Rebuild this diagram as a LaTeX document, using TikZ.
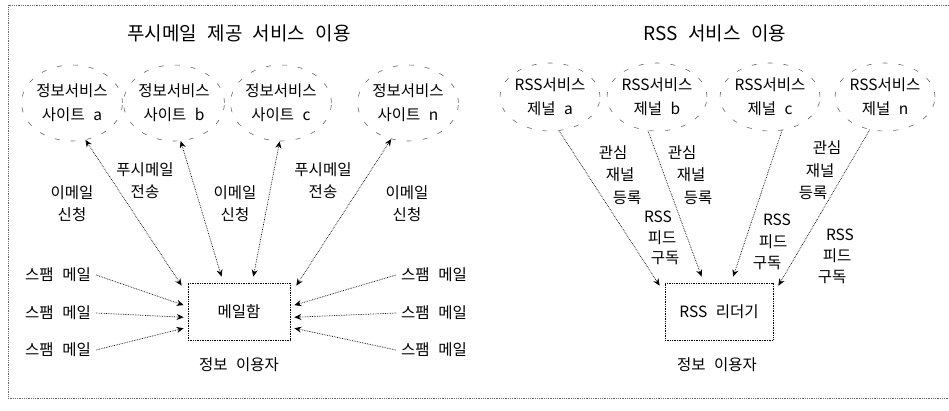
\documentclass[tikz,border=0pt]{standalone}
\usepackage{fontspec}
\setmainfont{Noto Sans CJK KR}
\usetikzlibrary{shapes.geometric,arrows.meta,calc}
\newcommand\wsp{\hskip 0.55em\relax}
\begin{document}
\begin{tikzpicture}[x=1pt,y=-1pt,
  lbl/.style={inner sep=0pt,font=\fontsize{15.5}{22}\selectfont,align=center},
  ttl/.style={inner sep=0pt,font=\fontsize{19}{22}\selectfont},
  cloudell/.style={ellipse,inner sep=0pt,minimum width=98pt,minimum height=76pt,
     draw=black!60,line width=0.6pt,dash pattern=on 5pt off 11pt,
     font=\fontsize{15.5}{24}\selectfont,align=center},
  rssell/.style={cloudell,minimum height=68pt},
  boxn/.style={rectangle,draw=black,line width=0.7pt,densely dotted,inner sep=0pt,
     font=\fontsize{15.5}{18}\selectfont},
  conn/.style={draw=black,line width=0.7pt,densely dotted},
  tip/.style={-{Stealth[length=7pt,width=6pt,fill=black]}},
  tips/.style={{Stealth[length=7pt,width=6pt,fill=black]}-{Stealth[length=7pt,width=6pt,fill=black]}}
]
\useasboundingbox (0,0) rectangle (949,410);
\draw[draw=black!60,line width=0.8pt,densely dotted] (949,5) -- (8,5) -- (8,398) -- (949,398);

% titles
\node[ttl] (t1) at (239,33) {푸시메일\wsp 제공\wsp 서비스\wsp 이용};
\node[ttl] (t2) at (715,33) {RSS\wsp 서비스\wsp 이용};

% left clouds
\node[cloudell] (ca) at (72,103) {정보서비스\\사이트\wsp a};
\node[cloudell] (cb) at (174,103) {정보서비스\\사이트\wsp b};
\node[cloudell] (cc) at (281,103) {정보서비스\\사이트\wsp c};
\node[cloudell] (cn) at (408,103) {정보서비스\\사이트\wsp n};

% mail box
\node[boxn,minimum width=102pt,minimum height=57pt] (mb) at (239,311.5) {메일함};
\node[lbl] (u1) at (239,365) {정보\wsp 이용자};

% cloud connectors
\draw[conn,tips] (ca.-70) -- ($(mb.north west)+(-6,3)$);
\draw[conn,tips] (cb.-80) -- ($(mb.north west)!0.33!(mb.north east)+(0,-6)$);
\draw[conn,tips] (cc.-92) -- ($(mb.north west)!0.64!(mb.north east)+(0,-6)$);
\draw[conn,tips] (cn.-115) -- ($(mb.north east)+(6,3)$);

% connector labels
\node[lbl] (l1) at (72,204) {이메일\\신청};
\node[lbl] (l2) at (145,181) {푸시메일\\전송};
\node[lbl] (l3) at (235,204) {이메일\\신청};
\node[lbl] (l4) at (323,181) {푸시메일\\전송};
\node[lbl] (l5) at (407,204) {이메일\\신청};

% spam mail
\node[lbl] (sl1) at (58,275) {스팸\wsp 메일};
\node[lbl] (sl2) at (58,313) {스팸\wsp 메일};
\node[lbl] (sl3) at (58,350) {스팸\wsp 메일};
\node[lbl] (sr1) at (434,275) {스팸\wsp 메일};
\node[lbl] (sr2) at (434,313) {스팸\wsp 메일};
\node[lbl] (sr3) at (434,350) {스팸\wsp 메일};
\draw[conn,tip] ($(sl1.east)+(5,0)$) -- ($(mb.north west)!0.39!(mb.south west)+(-4,0)$);
\draw[conn,tip] ($(sl2.east)+(5,0)$) -- ($(mb.north west)!0.6!(mb.south west)+(-4,0)$);
\draw[conn,tip] ($(sl3.east)+(5,0)$) -- ($(mb.north west)!0.79!(mb.south west)+(-4,0)$);
\draw[conn,tip] ($(sr1.west)+(-5,0)$) -- ($(mb.north east)!0.39!(mb.south east)+(4,0)$);
\draw[conn,tip] ($(sr2.west)+(-5,0)$) -- ($(mb.north east)!0.6!(mb.south east)+(4,0)$);
\draw[conn,tip] ($(sr3.west)+(-5,0)$) -- ($(mb.north east)!0.79!(mb.south east)+(4,0)$);

% right clouds
\node[rssell] (ra) at (550,97) {RSS서비스\\제널\wsp a};
\node[rssell] (rb) at (657,97) {RSS서비스\\제널\wsp b};
\node[rssell] (rc) at (770,97) {RSS서비스\\제널\wsp c};
\node[rssell] (rn) at (885,97) {RSS서비스\\제널\wsp n};

% rss reader
\node[boxn,minimum width=108pt,minimum height=57pt] (rr) at (719,311.5) {RSS\wsp 리더기};
\node[lbl] (u2) at (717,365) {정보\wsp 이용자};

\draw[conn,tip] (ra.-75) -- ($(rr.north west)+(-5,3)$);
\draw[conn,tip] (rb.-105) -- ($(rr.north west)!0.34!(rr.north east)+(0,-6)$);
\draw[conn,tip] (rc.-70) -- ($(rr.north west)!0.63!(rr.north east)+(0,-6)$);
\draw[conn,tip] (rn.-115) -- ($(rr.north east)+(5,3)$);

% rss labels
\node[lbl] (g1a) at (613,153) {관심};
\node[lbl] (g1b) at (620,175) {재널};
\node[lbl] (g1c) at (627,198) {등록};
\node[lbl] (g2a) at (682,153) {관심};
\node[lbl] (g2b) at (691,175) {재널};
\node[lbl] (g2c) at (698,198) {등록};
\node[lbl] (g3a) at (827,148) {관심};
\node[lbl] (g3b) at (820,171) {재널};
\node[lbl] (g3c) at (813,193) {등록};
\node[lbl] (f1a) at (658,217) {RSS};
\node[lbl] (f1b) at (662,238) {피드};
\node[lbl] (f1c) at (665,258) {구독};
\node[lbl] (f2a) at (777,220) {RSS};
\node[lbl] (f2b) at (773,242) {피드};
\node[lbl] (f2c) at (767,263) {구독};
\node[lbl] (f3a) at (840,235) {RSS};
\node[lbl] (f3b) at (837,256) {피드};
\node[lbl] (f3c) at (832,277) {구독};
\end{tikzpicture}
\end{document}
